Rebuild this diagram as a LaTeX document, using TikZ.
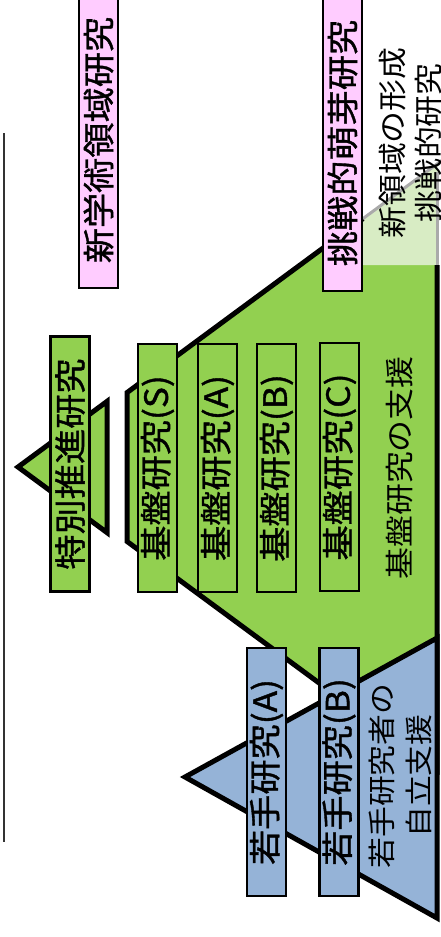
\documentclass[tikz,border=0pt]{standalone}
\usepackage{fontspec}
\setmainfont{Noto Sans CJK JP}[FakeStretch=1.1]
\newfontfamily\boxfont{Noto Sans CJK JP}[FakeStretch=1.1, FakeBold=1.2]
\definecolor{kgreen}{RGB}{146,208,80}
\definecolor{lgreen}{RGB}{216,236,196}
\definecolor{kblue}{RGB}{149,179,215}
\definecolor{kpink}{RGB}{255,204,255}
\definecolor{kgray}{RGB}{170,170,170}
\begin{document}
\begin{tikzpicture}[x=1pt,y=-1pt,
  thick outline/.style={draw=black, line width=5pt, line join=miter},
  labbox/.style={draw=black, line width=2.5pt, rotate=90, minimum width=248pt,
    minimum height=39pt, inner sep=0pt, text=black, font=\boxfont\fontsize{32}{32}\selectfont},
  gbox/.style={labbox, fill=kgreen},
  bbox/.style={labbox, fill=kblue},
  pbox/.style={labbox, fill=kpink, minimum width=296pt},
  plain/.style={rotate=90, align=center, inner sep=0pt, text=black, font=\fontsize{29}{36}\selectfont}
]
\useasboundingbox (0,0) rectangle (441,937);
\clip (0,0) rectangle (441,937);

% title underline (cropped title at left edge)
\draw[line width=1.8pt, black!80] (4,133) -- (4,842);

% small green triangle (apex)
\filldraw[fill=kgreen, thick outline] (18,467) -- (107,401.4) -- (107,532.6) -- cycle;

% big green trapezoid
\fill[kgreen] (127,392.6) -- (437,164.1) -- (437,769.9) -- (127,541.4) -- cycle;
\fill[lgreen] (363,218.6) -- (437,164.1) -- (437,265) -- (363,265) -- cycle;
\draw[thick outline] (363,218.6) -- (127,392.6) -- (127,541.4) -- (437,769.9) -- (437,265);
\draw[kgray, line width=3pt] (363,218.6) -- (443,159.6);
\draw[kgray, line width=3pt] (437,172) -- (437,265);

% blue triangle
\filldraw[fill=kblue, thick outline] (185,777) -- (437,638) -- (437,918) -- cycle;

% boxes
\node[gbox, minimum width=255pt] (tokubetsu) at (70,464) {特別推進研究};
\node[gbox] (kibanS) at (157.5,468) {基盤研究(S)};
\node[gbox] (kibanA) at (217.5,468) {基盤研究(A)};
\node[gbox] (kibanB) at (276.5,468) {基盤研究(B)};
\node[gbox] (kibanC) at (339.5,467) {基盤研究(C)};
\node[bbox] (wakateA) at (266.5,772) {若手研究(A)};
\node[bbox] (wakateB) at (339,772) {若手研究(B)};
\node[pbox] (shingaku) at (98.5,140) {新学術領域研究};
\node[pbox] (houga) at (342.5,143) {挑戦的萌芽研究};

% plain texts
\node[plain] (kibanshien) at (400,468) {基盤研究の支援};
\node[plain] (shinryoiki) at (410.5,143) {新領域の形成\\挑戦的研究};
\node[plain, font=\fontsize{28}{37}\selectfont] (jiritsu) at (400,776) {若手研究者の\\自立支援};
\end{tikzpicture}
\end{document}
